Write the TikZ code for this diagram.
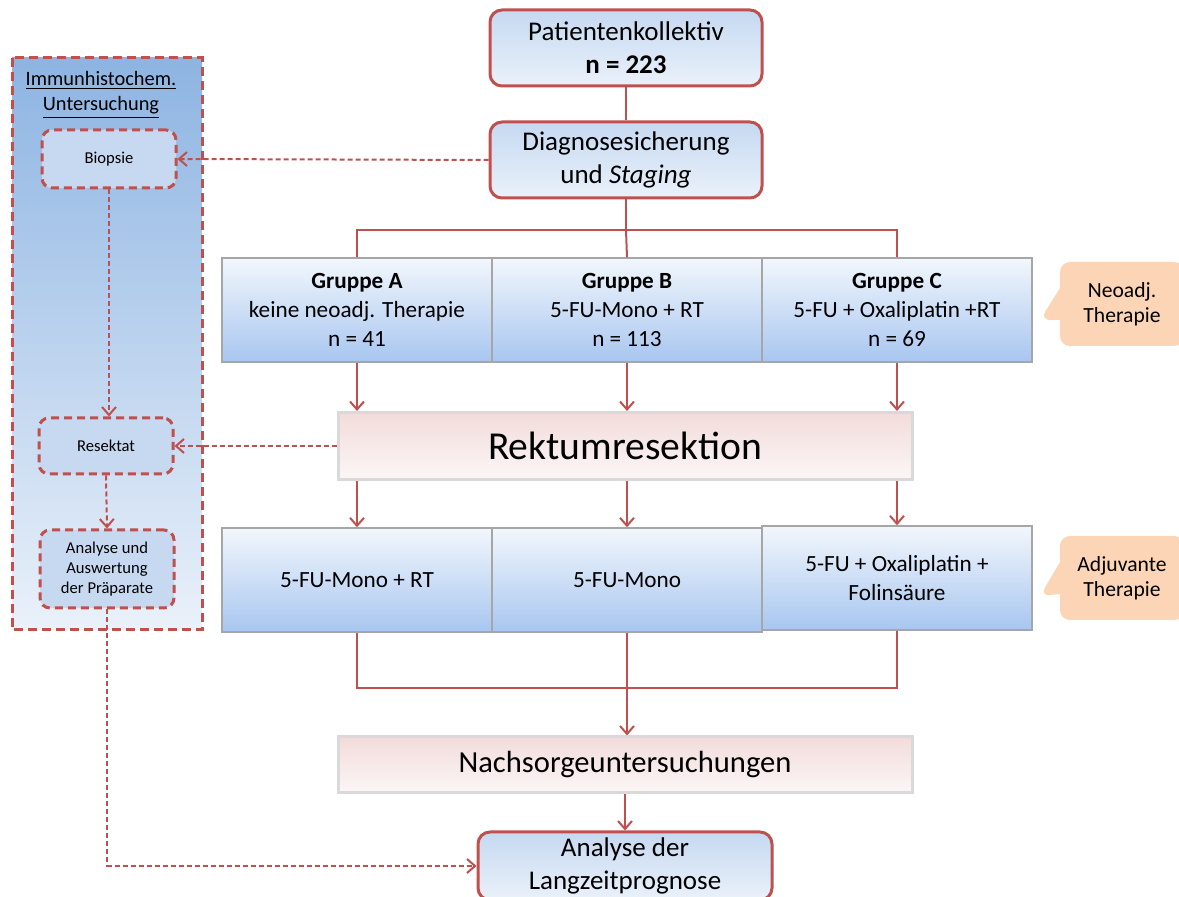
\documentclass[tikz,border=0pt]{standalone}
\usepackage{fontspec}
\setmainfont{Carlito}
\usetikzlibrary{arrows.meta,shapes.callouts}

\definecolor{rotlinie}{HTML}{C0504D}
\definecolor{blauoben}{HTML}{C6D9F1}
\definecolor{blauunten}{HTML}{EAF1FA}
\definecolor{paneloben}{HTML}{8DB4E2}
\definecolor{gruppeunten}{HTML}{A8C6F0}
\definecolor{randgrau}{HTML}{A6A6A6}
\definecolor{rosa}{HTML}{F2DCDB}
\definecolor{pfirsich}{HTML}{FBD5B5}

\begin{document}
\begin{tikzpicture}[x=0.5pt,y=-0.5pt,
    rotbox/.style={draw=rotlinie, line width=1.5pt, rounded corners=6pt, top color=blauoben, bottom color=blauunten,
        align=center, inner sep=0pt, minimum width=136pt, minimum height=38pt, font=\fontsize{13.5}{16.5}\selectfont},
    gruppe/.style={draw=randgrau, line width=0.7pt, top color=blauunten!60!white, bottom color=gruppeunten,
        align=center, inner sep=0pt, minimum width=135pt, minimum height=52pt, font=\fontsize{11.6}{14.5}\selectfont},
    balken/.style={draw=black!15, line width=1.5pt, top color=rosa, bottom color=rosa!25,
        inner sep=0pt, minimum width=287pt},
    klein/.style={draw=rotlinie, dashed, dash pattern=on 4pt off 2.5pt, line width=1.5pt, rounded corners=5pt,
        fill=blauoben, align=center, inner sep=0pt, minimum width=67pt, font=\fontsize{8.3}{10}\selectfont},
    blase/.style={rectangle callout, callout pointer width=16pt, fill=pfirsich, rounded corners=5pt, align=center, inner sep=0pt,
        minimum width=62pt, minimum height=42pt, font=\fontsize{10.8}{12.5}\selectfont},
    strich/.style={draw=rotlinie, line width=1pt},
    pfeil/.style={strich, -{Straight Barb[length=4pt,width=7pt]}},
    gestrichelt/.style={pfeil, dash pattern=on 2.5pt off 1.5pt}]

    \useasboundingbox (0,0) rectangle (1179,897);

    % Immunhistochemie links
    \draw[draw=rotlinie, dashed, dash pattern=on 4.5pt off 2.5pt, line width=1.5pt, top color=paneloben, bottom color=blauunten]
        (12,58) rectangle (202,630);
    \node[font=\fontsize{10.2}{12.5}\selectfont, align=center] (titel) at (101,95) {\underline{Immunhistochem.}\\\underline{Untersuchung}};
    \node[klein, minimum height=29pt] (bio) at (109,159) {Biopsie};
    \node[klein, minimum height=28pt] (res) at (106,446) {Resektat};
    \node[klein, minimum height=39pt] (ana) at (107,569) {Analyse und\\Auswertung\\der Präparate};

    % Hauptstrang
    \node[rotbox] (pat) at (626,48) {Patientenkollektiv\\\textbf{n = 223}};
    \node[rotbox] (diag) at (626,160) {Diagnosesicherung\\und \textit{Staging}};

    \node[gruppe] (ga) at (357,310) {\textbf{Gruppe A}\\keine neoadj. Therapie\\n = 41};
    \node[gruppe] (gb) at (627,310) {\textbf{Gruppe B}\\5-FU-Mono + RT\\n = 113};
    \node[gruppe] (gc) at (897,310) {\textbf{Gruppe C}\\5-FU + Oxaliplatin +RT\\n = 69};

    \node[balken, minimum height=33.5pt, font=\fontsize{19.8}{22}\selectfont] (rek) at (625,446) {Rektumresektion};

    \node[gruppe] (a2) at (357,580) {5-FU-Mono + RT};
    \node[gruppe] (b2) at (627,580) {5-FU-Mono};
    \node[gruppe] (c2) at (897,578) {5-FU + Oxaliplatin +\\Folinsäure};

    \node[balken, minimum height=28pt, font=\fontsize{15.3}{17}\selectfont] (nach) at (625,765) {Nachsorgeuntersuchungen};
    \node[rotbox, minimum width=147pt, minimum height=34pt] (lang) at (625,866) {Analyse der\\Langzeitprognose};

    \node[blase, callout absolute pointer={(1040,320)}] (neo) at (1122,304) {Neoadj.\\Therapie};
    \node[blase, callout absolute pointer={(1040,596)}] (adj) at (1122,578) {Adjuvante\\Therapie};

    \coordinate (verteiler) at (626,230);
    \coordinate (sammler) at (627,688);

    \draw[strich] (pat) -- (diag);
    \draw[strich] (diag) -- (verteiler);
    \draw[strich] (ga.north) |- (verteiler) -| (gc.north);
    \draw[strich] (verteiler) -- (gb.north);

    \draw[pfeil] (ga.south) -- (ga.south |- rek.north);
    \draw[pfeil] (gb.south) -- (gb.south |- rek.north);
    \draw[pfeil] (gc.south) -- (gc.south |- rek.north);

    \draw[pfeil] (rek.south -| a2.north) -- (a2.north);
    \draw[pfeil] (rek.south -| b2.north) -- (b2.north);
    \draw[pfeil] (rek.south -| c2.north) -- (c2.north);

    \draw[strich] (a2.south) |- (sammler) -| (c2.south);
    \draw[pfeil] (b2.south) -- (nach.north -| b2.south);
    \draw[pfeil] (nach.south -| lang.north) -- (lang.north);

    \draw[gestrichelt] (diag.west) -- (bio.east);
    \draw[gestrichelt] (rek.west) -- (res.east);
    \draw[gestrichelt] (bio.south) -- (bio.south |- res.north);
    \draw[gestrichelt] (res.south) -- (ana.north);
    \draw[gestrichelt] (ana.south) |- (lang.west);
\end{tikzpicture}
\end{document}
